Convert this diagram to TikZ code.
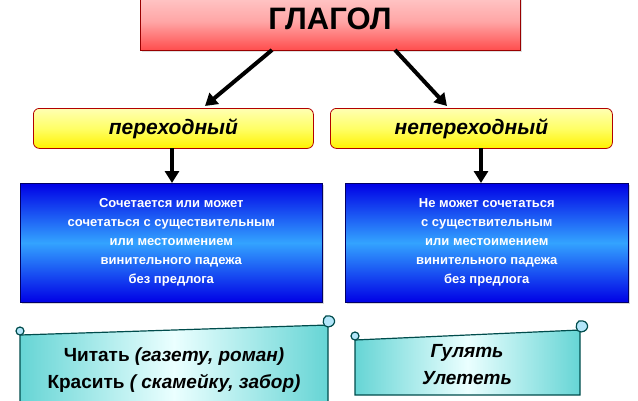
\documentclass[tikz,border=0pt]{standalone}
\usepackage{fontspec}
\setmainfont{Liberation Sans}
\usetikzlibrary{arrows.meta,shadows}
\begin{document}
\begin{tikzpicture}[x=1pt,y=-1pt,
  arr/.style={line width=4pt,-{Triangle[length=12pt,width=14pt]}},
  ybox/.style={draw=red!70!black,line width=0.8pt,rounded corners=6pt,top color=yellow!30,bottom color=yellow!90!orange,middle color=yellow!60},
  bbox/.style={draw=blue!40!black,line width=0.6pt,top color=blue!90!black,bottom color=blue!90!black,middle color=blue!45!cyan!80!white,shading angle=0,drop shadow={shadow xshift=2pt,shadow yshift=-2pt,fill=gray!60}},
  scroll/.style={draw=teal!60!black,line width=1.2pt,left color=cyan!45!teal!60,right color=cyan!45!teal!60,middle color=cyan!8},
  ttl/.style={font=\bfseries\itshape\fontsize{21}{24}\selectfont},
  btxt/.style={font=\bfseries\fontsize{13}{19}\selectfont,text=white,align=center},
  stxt/.style={font=\bfseries\fontsize{19}{27}\selectfont,align=center}]
\useasboundingbox (0,0) rectangle (638,400);
\node[draw=red!60!black,line width=0.8pt,top color=red!20,bottom color=red!70,middle color=red!35,minimum width=380pt,minimum height=58pt,anchor=north west,drop shadow={shadow xshift=2pt,shadow yshift=-2pt,fill=gray!50}] (g) at (140,-8) {};
\node[font=\bfseries\fontsize{31}{32}\selectfont] (gt) at (330,19) {ГЛАГОЛ};
\node[ybox,minimum width=280pt,minimum height=40pt,anchor=north west] (p) at (33,108) {};
\node[ttl] at (p.center) {переходный};
\node[ybox,minimum width=282pt,minimum height=40pt,anchor=north west] (n) at (330,108) {};
\node[ttl] at (n.center) {непереходный};
\coordinate (a1) at (272,50); \coordinate (a2) at (395,50);
\draw[arr] (a1) -- (205,106);
\draw[arr] (a2) -- (447,106);
\node[bbox,minimum width=302pt,minimum height=119pt,anchor=north west] (b1) at (20,183) {};
\node[btxt] at (b1.center) {Сочетается или может\\сочетаться с существительным\\или местоимением\\винительного  падежа\\без предлога};
\node[bbox,minimum width=283pt,minimum height=119pt,anchor=north west] (b2) at (345,183) {};
\node[btxt] at (b2.center) {Не может сочетаться\\с существительным\\или местоимением\\винительного  падежа\\без предлога};
\draw[arr] (172,148) -- (b1.north -| 172,0);
\draw[arr] (481,148) -- (b2.north -| 481,0);
% scrolls
\path[scroll] (20,335) -- (328,325) -- (328,410) -- (20,410) -- cycle;
\draw[teal!60!black,line width=1.2pt,fill=cyan!30] (20,335) arc[start angle=90,end angle=450,radius=4] ;
\draw[teal!60!black,line width=1.2pt,fill=cyan!30] (326,316) .. controls (336,314) and (338,326) .. (328,327) .. controls (322,327) and (322,318) .. (326,316) -- cycle;
\path[scroll] (355,340) -- (580,330) -- (580,395) -- (355,395) -- cycle;
\draw[teal!60!black,line width=1.2pt,fill=cyan!30] (355,340) arc[start angle=90,end angle=450,radius=4];
\draw[teal!60!black,line width=1.2pt,fill=cyan!30] (579,321) .. controls (589,319) and (591,331) .. (581,332) .. controls (575,332) and (575,323) .. (579,321) -- cycle;
\node[stxt] (s1) at (174,370) {Читать \textit{(газету, роман)}\\Красить \textit{( скамейку, забор)}};
\node[stxt] (s2) at (467,365) {\textit{Гулять}\\\textit{Улететь}};
\fill[white] (600,385) rectangle (638,400);
\end{tikzpicture}
\end{document}
